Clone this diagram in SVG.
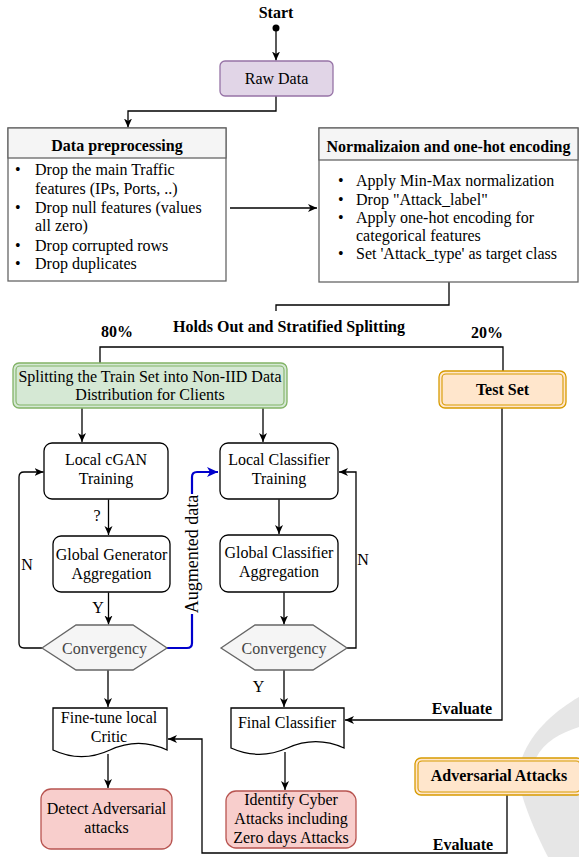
<svg xmlns="http://www.w3.org/2000/svg" width="579" height="857" viewBox="0 0 579 857">
<style>
.t{font-family:"Liberation Serif","Times New Roman",serif;font-size:16px;fill:#000}
.b{font-weight:bold}
.m{text-anchor:middle}
.ln{fill:none;stroke:#000;stroke-width:1.3}
.bx{fill:#fff;stroke:#000;stroke-width:1.3}
.hx{fill:#f5f5f5;stroke:#666;stroke-width:1.3}
.hd{fill:#f5f5f5;stroke:#666;stroke-width:1.3}
.red{fill:#f8cecc;stroke:#b85450;stroke-width:1.3}
.grn{fill:#d5e8d4;stroke:#82b366;stroke-width:1.3}
.org{fill:#ffe6cc;stroke:#d79b00;stroke-width:1.3}
.gt{fill:#444}
</style>
<defs>
<marker id="ah" markerWidth="10" markerHeight="10" refX="9" refY="5" orient="auto" markerUnits="userSpaceOnUse"><path d="M0,1 L9,5 L0,9 L2.5,5 Z" fill="#000"/></marker>
<marker id="ahb" markerWidth="12" markerHeight="12" refX="11" refY="6" orient="auto" markerUnits="userSpaceOnUse"><path d="M0,1 L11,6 L0,11 L3,6 Z" fill="#0000cc"/></marker>
</defs>
<rect width="579" height="857" fill="#fff"/>
<g id="watermark">
<path d="M579,697 C558,709 532,730 522,758 L522,795 C528,815 538,838 548,857 L579,857 Z" fill="#e6e6e6"/>
<path d="M579,727 C560,733 544,742 536,758 L579,758 Z" fill="#fff"/>
</g>
<g id="connectors">
<circle cx="276" cy="28" r="3.5" fill="#000"/>
<path class="ln" d="M276,28 V60.5" marker-end="url(#ah)"/>
<path class="ln" d="M276,96 V111 H128 V127.5" marker-end="url(#ah)"/>
<path class="ln" d="M230,208 H317" marker-end="url(#ah)"/>
<path class="ln" d="M449,282 V305 H276 V311"/>
<path class="ln" d="M100,363 V347 H503 V371"/>
<path class="ln" d="M82,408 V442" marker-end="url(#ah)"/>
<path class="ln" d="M263,408 V442" marker-end="url(#ah)"/>
<path class="ln" d="M108.5,499.5 V535" marker-end="url(#ah)"/>
<path class="ln" d="M108.5,592.5 V624.5" marker-end="url(#ah)"/>
<path class="ln" d="M42,648 H24 Q19,648 19,643 V477 Q19,472 24,472 H43.5" marker-end="url(#ah)"/>
<path d="M167,648 H187 Q192,648 192,643 V477 Q192,472 197,472 H218" fill="none" stroke="#0000cc" stroke-width="2.2" marker-end="url(#ahb)"/>
<path class="ln" d="M279,499.5 V534" marker-end="url(#ah)"/>
<path class="ln" d="M284,592.5 V624.5" marker-end="url(#ah)"/>
<path class="ln" d="M347,648 H356 V472 H339" marker-end="url(#ah)"/>
<path class="ln" d="M108,670 V707" marker-end="url(#ah)"/>
<path class="ln" d="M284,670 V707" marker-end="url(#ah)"/>
<path class="ln" d="M502,408 V720 H345" marker-end="url(#ah)"/>
<path class="ln" d="M108,754 V788" marker-end="url(#ah)"/>
<path class="ln" d="M285,752 V790" marker-end="url(#ah)"/>
<path class="ln" d="M507,795 V853 H202 V739 H168" marker-end="url(#ah)"/>
<rect x="184" y="494" width="16" height="120" fill="#fff"/>
<text class="t m" style="font-size:18px" transform="translate(198,554) rotate(-90)">Augmented data</text>
<text class="t m" x="97" y="521">?</text>
<text class="t m" x="98" y="613">Y</text>
<text class="t m" x="27" y="570">N</text>
<text class="t m" x="363" y="565">N</text>
<text class="t m" x="258.5" y="692">Y</text>
<text class="t b m" x="462" y="714">Evaluate</text>
<text class="t b m" x="463" y="850">Evaluate</text>
<text class="t b m" x="289" y="332">Holds Out and Stratified Splitting</text>
<text class="t b m" x="117" y="337">80%</text>
<text class="t b m" x="487" y="338">20%</text>
</g>
<g id="start"><text class="t b m" x="276" y="18">Start</text></g>
<g id="raw-data">
<rect x="220" y="61" width="113" height="35" rx="5" fill="#e1d5e7" stroke="#9673a6" stroke-width="1.3"/>
<text class="t m" x="276.5" y="83.5">Raw Data</text>
</g>
<g id="data-preprocessing">
<rect class="bx" x="8" y="128" width="218" height="153" style="stroke:#666"/>
<rect class="hd" x="8" y="128" width="218" height="30"/>
<text class="t b m" x="117" y="151">Data preprocessing</text>
<text class="t" x="15" y="175">•</text><text class="t" x="35" y="175">Drop the main Traffic</text>
<text class="t" x="35" y="193.5">features (IPs, Ports, ..)</text>
<text class="t" x="15" y="212.5">•</text><text class="t" x="35" y="212.5">Drop null features (values</text>
<text class="t" x="35" y="231">all zero)</text>
<text class="t" x="15" y="250.5">•</text><text class="t" x="35" y="250.5">Drop corrupted rows</text>
<text class="t" x="15" y="269">•</text><text class="t" x="35" y="269">Drop duplicates</text>
</g>
<g id="normalization">
<rect class="bx" x="319" y="128" width="259" height="154" style="stroke:#666"/>
<rect class="hd" x="319" y="128" width="259" height="32"/>
<text class="t b m" x="448.5" y="152">Normalizaion and one-hot encoding</text>
<text class="t" x="338" y="186">•</text><text class="t" x="356" y="186">Apply Min-Max normalization</text>
<text class="t" x="338" y="204.5">•</text><text class="t" x="356" y="204.5">Drop "Attack_label"</text>
<text class="t" x="338" y="222.5">•</text><text class="t" x="356" y="222.5">Apply one-hot encoding for</text>
<text class="t" x="356" y="240.5">categorical features</text>
<text class="t" x="338" y="259">•</text><text class="t" x="356" y="259">Set 'Attack_type' as target class</text>
</g>
<g id="train-split">
<rect class="grn" x="13" y="363" width="274" height="45" rx="6"/>
<rect x="16" y="366" width="268" height="39" rx="4" fill="none" stroke="#82b366" stroke-width="1.1"/>
<text class="t m" x="150" y="381.5">Splitting the Train Set into Non-IID Data</text>
<text class="t m" x="150" y="399.5">Distribution for Clients</text>
</g>
<g id="test-set">
<rect class="org" x="439" y="371" width="127" height="37" rx="6"/>
<rect x="442" y="374" width="121" height="31" rx="4" fill="none" stroke="#d79b00" stroke-width="1.1"/>
<text class="t b m" x="502.5" y="395">Test Set</text>
</g>
<g id="local-cgan">
<rect class="bx" x="44" y="443" width="124" height="56" rx="8"/>
<text class="t m" x="106" y="465">Local cGAN</text>
<text class="t m" x="106" y="484">Training</text>
</g>
<g id="global-generator">
<rect class="bx" x="53" y="536" width="117" height="56" rx="8"/>
<text class="t m" x="111.5" y="560">Global Generator</text>
<text class="t m" x="111.5" y="578.5">Aggregation</text>
</g>
<g id="convergency-left">
<polygon class="hx" points="42,648 76,625 133,625 167,648 133,670 76,670"/>
<text class="t m gt" x="104.5" y="653.5">Convergency</text>
</g>
<g id="local-classifier">
<rect class="bx" x="220" y="443" width="118" height="56" rx="8"/>
<text class="t m" x="279" y="465">Local Classifier</text>
<text class="t m" x="279" y="484">Training</text>
</g>
<g id="global-classifier">
<rect class="bx" x="220" y="535" width="118" height="57" rx="8"/>
<text class="t m" x="279" y="557.5">Global Classifier</text>
<text class="t m" x="279" y="577">Aggregation</text>
</g>
<g id="convergency-right">
<polygon class="hx" points="221,648 255,625 313,625 347,648 313,670 255,670"/>
<text class="t m gt" x="284" y="653.5">Convergency</text>
</g>
<g id="fine-tune">
<path class="bx" d="M53,708 H167 V750 Q138.5,736.7 110,750 Q81.5,763.3 53,750 Z"/>
<text class="t m" x="109" y="723">Fine-tune local</text>
<text class="t m" x="109" y="742">Critic</text>
</g>
<g id="final-classifier">
<path class="bx" d="M231,708 H344 V748 Q315.75,735.3 287.5,748 Q259.25,760.6 231,748 Z"/>
<text class="t m" x="287" y="728">Final Classifier</text>
</g>
<g id="detect">
<rect class="red" x="41" y="789" width="131" height="60" rx="10"/>
<text class="t m" x="106.5" y="814">Detect Adversarial</text>
<text class="t m" x="106.5" y="833">attacks</text>
</g>
<g id="identify">
<rect class="red" x="226" y="791" width="130" height="57" rx="10"/>
<text class="t m" x="291" y="805">Identify Cyber</text>
<text class="t m" x="291" y="824">Attacks including</text>
<text class="t m" x="291" y="843">Zero days Attacks</text>
</g>
<g id="adversarial-attacks">
<rect class="org" x="415" y="758" width="168" height="37" rx="6"/>
<rect x="418" y="761" width="162" height="31" rx="4" fill="none" stroke="#d79b00" stroke-width="1.1"/>
<text class="t b m" x="499" y="781">Adversarial Attacks</text>
</g>
</svg>
